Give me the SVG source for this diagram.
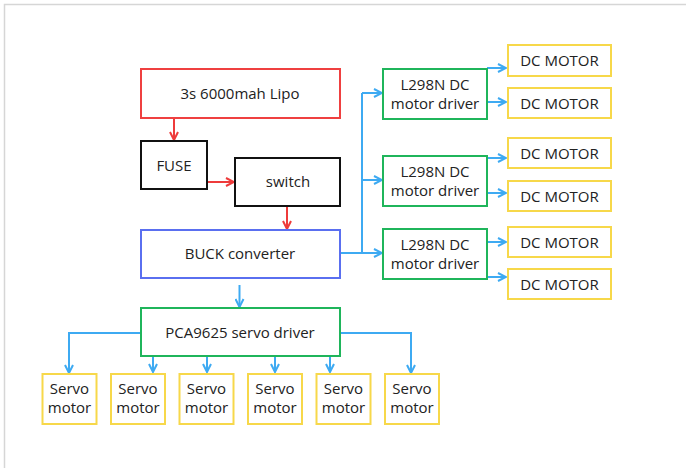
<svg xmlns="http://www.w3.org/2000/svg" width="686" height="468" viewBox="0 0 686 468">
<defs>
<style>
.box{fill:#fff;stroke-width:2}
.red{stroke:#ef4040}
.blk{stroke:#111}
.blu{stroke:#5a6ff0}
.grn{stroke:#1fb55b}
.yel{stroke:#f7d84a}
text{font-family:"Open Sans","Noto Sans",sans-serif;font-size:15px;fill:#222;text-anchor:middle}
.cr{fill:none;stroke:#ee3b3b;stroke-width:2}
.cb{fill:none;stroke:#3eaaf2;stroke-width:2}
</style>
<marker id="ar" viewBox="0 0 10 10" refX="9" refY="5" markerWidth="10" markerHeight="10" markerUnits="userSpaceOnUse" orient="auto">
<path d="M1,1 L9,5 L1,9" fill="none" stroke="#ee3b3b" stroke-width="2"/>
</marker>
<marker id="ab" viewBox="0 0 10 10" refX="9" refY="5" markerWidth="10" markerHeight="10" markerUnits="userSpaceOnUse" orient="auto">
<path d="M1,1 L9,5 L1,9" fill="none" stroke="#3eaaf2" stroke-width="2"/>
</marker>
</defs>
<rect x="0" y="0" width="686" height="468" fill="#fff"/>
<rect x="4.5" y="4.5" width="720" height="520" fill="none" stroke="#d6d6d6" stroke-width="1.5"/>

<g id="connectors">
<path class="cr" d="M174,118 V140" marker-end="url(#ar)"/>
<path class="cr" d="M207,182 H234" marker-end="url(#ar)"/>
<path class="cr" d="M287,206 V229" marker-end="url(#ar)"/>
<path class="cb" d="M341,253 H362"/>
<path class="cb" d="M362,93 V253"/>
<path class="cb" d="M362,93 H382" marker-end="url(#ab)"/>
<path class="cb" d="M362,180 H382" marker-end="url(#ab)"/>
<path class="cb" d="M362,253 H382" marker-end="url(#ab)"/>
<path class="cb" d="M487,68 H506" marker-end="url(#ab)"/>
<path class="cb" d="M487,102 H506" marker-end="url(#ab)"/>
<path class="cb" d="M487,158 H506" marker-end="url(#ab)"/>
<path class="cb" d="M487,193 H506" marker-end="url(#ab)"/>
<path class="cb" d="M487,242 H506" marker-end="url(#ab)"/>
<path class="cb" d="M487,277 H506" marker-end="url(#ab)"/>
<path class="cb" d="M239.5,285 V307" marker-end="url(#ab)"/>
<path class="cb" d="M140,333 H69 V373" marker-end="url(#ab)"/>
<path class="cb" d="M341,333 H411 V373" marker-end="url(#ab)"/>
<path class="cb" d="M153,357 V372" marker-end="url(#ab)"/>
<path class="cb" d="M207,357 V372" marker-end="url(#ab)"/>
<path class="cb" d="M275,357 V372" marker-end="url(#ab)"/>
<path class="cb" d="M330,357 V372" marker-end="url(#ab)"/>
</g>

<g id="lipo"><rect class="box red" x="141" y="69" width="199" height="49"/><text x="240" y="99">3s 6000mah Lipo</text></g>
<g id="fuse"><rect class="box blk" x="141" y="141" width="66" height="48"/><text x="174" y="171">FUSE</text></g>
<g id="switch"><rect class="box blk" x="235" y="158" width="105" height="48"/><text x="288" y="187">switch</text></g>
<g id="buck"><rect class="box blu" x="141" y="230" width="199" height="48"/><text x="240" y="259">BUCK converter</text></g>
<g id="pca"><rect class="box grn" x="141" y="308" width="199" height="48"/><text x="240" y="338">PCA9625 servo driver</text></g>

<g id="l298n1"><rect class="box grn" x="383" y="69" width="104" height="50"/><text x="435" y="90">L298N DC</text><text x="435" y="109">motor driver</text></g>
<g id="l298n2"><rect class="box grn" x="383" y="156" width="104" height="50"/><text x="435" y="177">L298N DC</text><text x="435" y="196">motor driver</text></g>
<g id="l298n3"><rect class="box grn" x="383" y="229" width="104" height="50"/><text x="435" y="250">L298N DC</text><text x="435" y="269">motor driver</text></g>

<g id="dc1"><rect class="box yel" x="508" y="45" width="103" height="31"/><text x="559.5" y="66">DC MOTOR</text></g>
<g id="dc2"><rect class="box yel" x="508" y="88" width="103" height="30"/><text x="559.5" y="108.5">DC MOTOR</text></g>
<g id="dc3"><rect class="box yel" x="508" y="138" width="103" height="30"/><text x="559.5" y="158.5">DC MOTOR</text></g>
<g id="dc4"><rect class="box yel" x="508" y="181" width="103" height="30"/><text x="559.5" y="201.5">DC MOTOR</text></g>
<g id="dc5"><rect class="box yel" x="508" y="227" width="103" height="30"/><text x="559.5" y="247.5">DC MOTOR</text></g>
<g id="dc6"><rect class="box yel" x="508" y="269" width="103" height="30"/><text x="559.5" y="289.5">DC MOTOR</text></g>

<g id="servo1"><rect class="box yel" x="42.5" y="374" width="54" height="50"/><text x="69.5" y="394">Servo</text><text x="69.5" y="413">motor</text></g>
<g id="servo2"><rect class="box yel" x="111" y="374" width="54" height="50"/><text x="138" y="394">Servo</text><text x="138" y="413">motor</text></g>
<g id="servo3"><rect class="box yel" x="179.5" y="374" width="54" height="50"/><text x="206.5" y="394">Servo</text><text x="206.5" y="413">motor</text></g>
<g id="servo4"><rect class="box yel" x="248" y="374" width="54" height="50"/><text x="275" y="394">Servo</text><text x="275" y="413">motor</text></g>
<g id="servo5"><rect class="box yel" x="316.5" y="374" width="54" height="50"/><text x="343.5" y="394">Servo</text><text x="343.5" y="413">motor</text></g>
<g id="servo6"><rect class="box yel" x="385" y="374" width="54" height="50"/><text x="412" y="394">Servo</text><text x="412" y="413">motor</text></g>
</svg>
